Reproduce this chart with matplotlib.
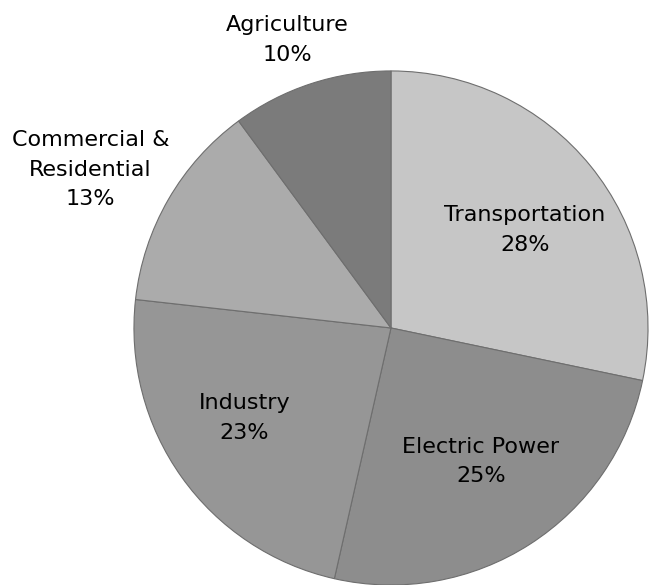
import matplotlib.pyplot as plt

labels = ['Transportation', 'Electric Power', 'Industry',
          'Commercial &\nResidential', 'Agriculture']
shares = [28, 25, 23, 13, 10]

colors = ['#c6c6c6', '#8d8d8d', '#969696', '#ababab', '#7b7b7b']
# label centres in pie units (radius = 1)
label_xy = [(0.52, 0.38), (0.35, -0.52), (-0.57, -0.35),
            (-1.17, 0.615), (-0.405, 1.12)]

fig = plt.figure(figsize=(6.55, 5.85), dpi=100)
ax = fig.add_axes([0, 0, 1, 1])

ax.pie(shares, colors=colors, startangle=90, counterclock=False,
       radius=1.0, wedgeprops=dict(edgecolor='#6e6e6e', linewidth=0.8))

for lab, val, (x, y) in zip(labels, shares, label_xy):
    ax.text(x, y, f'{lab}\n{val}%', ha='center', va='center',
            fontsize=16, color='black', linespacing=1.6)

ax.set_xlim(-1.521, 1.027)
ax.set_ylim(-1.0, 1.276)
ax.set_aspect('equal')
ax.axis('off')

fig.savefig('out.png', dpi=100)
